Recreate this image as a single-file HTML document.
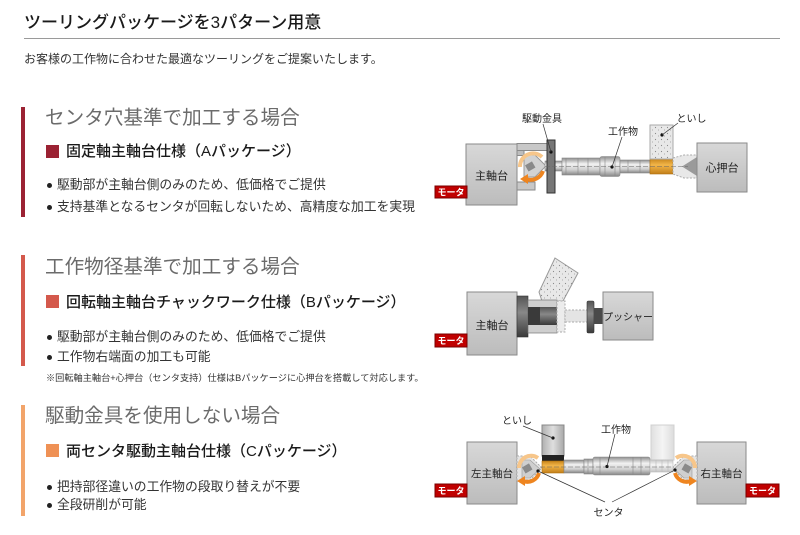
<!DOCTYPE html>
<html><head><meta charset="utf-8">
<style>
html,body{margin:0;padding:0;}
body{width:800px;height:535px;overflow:hidden;position:relative;background:#fff;font-family:"Liberation Sans","Noto Sans CJK JP",sans-serif;}
.t{position:absolute;white-space:nowrap;line-height:1;}
.bar{position:absolute;left:21px;width:3.5px;}
.sq{position:absolute;left:46px;width:13px;height:13px;}
.bl{position:absolute;left:46.5px;width:5px;height:5px;border-radius:50%;background:#222;}
.h{left:45px;font-size:19.6px;color:#6b6b6b;}
.s{left:66px;font-size:15px;color:#1a1a1a;font-weight:500;}
.b{left:57px;font-size:12.8px;color:#333;}
svg{position:absolute;left:0;top:0;}
</style></head><body>
<div class="t" style="left:24px;top:13.5px;font-size:17px;color:#1a1a1a;font-weight:500;">ツーリングパッケージを3パターン用意</div>
<div style="position:absolute;left:24px;top:38px;width:756px;height:1px;background:#9a9a9a;"></div>
<div class="t" style="left:24px;top:52.9px;font-size:12px;color:#333;">お客様の工作物に合わせた最適なツーリングをご提案いたします。</div>

<div class="bar" style="top:107px;height:110px;background:#9b2233;"></div>
<div class="t h" style="top:108.8px;">センタ穴基準で加工する場合</div>
<div class="sq" style="top:144.5px;background:#9b2233;"></div>
<div class="t s" style="top:144px;">固定軸主軸台仕様（Aパッケージ）</div>
<div class="bl" style="top:182.5px;"></div>
<div class="t b" style="top:179px;">駆動部が主軸台側のみのため、低価格でご提供</div>
<div class="bl" style="top:204.5px;"></div>
<div class="t b" style="top:201px;">支持基準となるセンタが回転しないため、高精度な加工を実現</div>

<div class="bar" style="top:255px;height:111px;background:#d4594c;"></div>
<div class="t h" style="top:257.8px;">工作物径基準で加工する場合</div>
<div class="sq" style="top:295px;background:#d4594c;"></div>
<div class="t s" style="top:295px;">回転軸主軸台チャックワーク仕様（Bパッケージ）</div>
<div class="bl" style="top:334.5px;"></div>
<div class="t b" style="top:331px;">駆動部が主軸台側のみのため、低価格でご提供</div>
<div class="bl" style="top:354.5px;"></div>
<div class="t b" style="top:351px;">工作物右端面の加工も可能</div>
<div class="t" style="left:46px;top:373.7px;font-size:9.2px;color:#333;">※回転軸主軸台+心押台（センタ支持）仕様はBパッケージに心押台を搭載して対応します。</div>

<div class="bar" style="top:405px;height:111px;background:#f2a46a;"></div>
<div class="t h" style="top:406.8px;">駆動金具を使用しない場合</div>
<div class="sq" style="top:444px;background:#ef9155;"></div>
<div class="t s" style="top:444px;">両センタ駆動主軸台仕様（Cパッケージ）</div>
<div class="bl" style="top:484.5px;"></div>
<div class="t b" style="top:481px;">把持部径違いの工作物の段取り替えが不要</div>
<div class="bl" style="top:502.5px;"></div>
<div class="t b" style="top:499px;">全段研削が可能</div>

<svg width="800" height="535" viewBox="0 0 800 535" xmlns="http://www.w3.org/2000/svg" font-family="Liberation Sans, Noto Sans CJK JP, sans-serif">
<defs>
<linearGradient id="box" x1="0" y1="0" x2="0" y2="1"><stop offset="0" stop-color="#d8d8d8"/><stop offset="1" stop-color="#bcbcbc"/></linearGradient>
<linearGradient id="cyl" x1="0" y1="0" x2="0" y2="1"><stop offset="0" stop-color="#8e8e8e"/><stop offset="0.35" stop-color="#f2f2f2"/><stop offset="0.7" stop-color="#cfcfcf"/><stop offset="1" stop-color="#858585"/></linearGradient>
<linearGradient id="cylL" x1="0" y1="0" x2="0" y2="1"><stop offset="0" stop-color="#c8c8c8"/><stop offset="0.4" stop-color="#f6f6f6"/><stop offset="1" stop-color="#c4c4c4"/></linearGradient>
<linearGradient id="org" x1="0" y1="0" x2="0" y2="1"><stop offset="0" stop-color="#c9861c"/><stop offset="0.4" stop-color="#f3b64a"/><stop offset="1" stop-color="#c27e18"/></linearGradient>
<linearGradient id="dark" x1="0" y1="0" x2="0" y2="1"><stop offset="0" stop-color="#555"/><stop offset="0.4" stop-color="#888"/><stop offset="1" stop-color="#3a3a3a"/></linearGradient>
<linearGradient id="wheel" x1="0" y1="0" x2="1" y2="0"><stop offset="0" stop-color="#b0b0b0"/><stop offset="0.5" stop-color="#dedede"/><stop offset="1" stop-color="#a8a8a8"/></linearGradient>
<linearGradient id="ghost" x1="0" y1="0" x2="1" y2="0"><stop offset="0" stop-color="#e0e0e0"/><stop offset="0.5" stop-color="#f4f4f4"/><stop offset="1" stop-color="#dcdcdc"/></linearGradient>
<pattern id="dots" width="6" height="6" patternUnits="userSpaceOnUse"><rect width="6" height="6" fill="#e8e8e8"/><circle cx="1.5" cy="1.5" r="0.6" fill="#8a8a8a"/><circle cx="4.5" cy="4" r="0.5" fill="#9a9a9a"/></pattern>
</defs>

<!-- Diagram 1 -->
<rect x="466" y="144" width="51" height="61" fill="url(#box)" stroke="#8a8a8a"/>
<text x="491.5" y="179.5" font-size="11" text-anchor="middle" fill="#222">主軸台</text>
<rect x="435" y="186" width="32" height="12" fill="#c00000" stroke="#7a0000"/>
<text x="451" y="195.5" font-size="9" text-anchor="middle" fill="#fff" font-weight="bold">モータ</text>
<rect x="517" y="143.5" width="30" height="7" fill="#c8c8c8" stroke="#8a8a8a"/>
<rect x="517" y="150.5" width="7" height="5" fill="#bdbdbd" stroke="#8a8a8a"/>
<rect x="517" y="182" width="18" height="8" fill="#c8c8c8" stroke="#8a8a8a"/>
<polygon points="524,155 535,155 546,166 535,177 524,177" fill="#d2d2d2" stroke="#999"/>
<rect x="526" y="163" width="8" height="7" fill="#8a8a8a" transform="rotate(-30 530 166)"/>
<path d="M520,167 A13,13 0 0 1 542,157" stroke="#f7c68a" stroke-width="4" fill="none"/>
<path d="M543,171 A13,13 0 0 1 526,179" stroke="#ee8520" stroke-width="4" fill="none"/>
<polygon points="520,179 528,174 528,184" fill="#ee8520"/>
<rect x="545" y="161" width="17" height="10" fill="url(#cyl)" stroke="#888" stroke-width="0.6"/>
<rect x="547" y="140" width="8" height="53" fill="#767676" stroke="#333"/>
<circle cx="551" cy="152" r="1.6" fill="#111"/>
<rect x="562" y="158" width="38" height="17" fill="url(#cyl)" stroke="#888" stroke-width="0.6"/>
<rect x="600" y="156.5" width="20" height="20" rx="2" fill="url(#cyl)" stroke="#888" stroke-width="0.6"/>
<rect x="620" y="160" width="30" height="13" fill="url(#cyl)" stroke="#888" stroke-width="0.6"/>
<g stroke="#888" stroke-width="0.6"><line x1="566" y1="158" x2="566" y2="175"/><line x1="578" y1="158" x2="578" y2="175"/><line x1="588" y1="158" x2="588" y2="175"/><line x1="605" y1="157" x2="605" y2="176"/><line x1="615" y1="157" x2="615" y2="176"/><line x1="628" y1="160" x2="628" y2="173"/><line x1="640" y1="160" x2="640" y2="173"/></g>
<rect x="650" y="159" width="23" height="15" fill="url(#org)" stroke="#b07010" stroke-width="0.6"/>
<rect x="650" y="125" width="23" height="34" fill="url(#dots)" stroke="#aaa"/>
<polygon points="673,158 684,155 697,155 697,178 684,178 673,174" fill="#e8e8e8" stroke="#aaa" stroke-dasharray="2 1.5"/>
<polygon points="682,166.5 697,157 697,176" fill="#9a9a9a"/>
<line x1="545" y1="166.5" x2="688" y2="166.5" stroke="#666" stroke-width="0.6" stroke-dasharray="5 2"/>
<rect x="697" y="143" width="50" height="49" fill="url(#box)" stroke="#8a8a8a"/>
<text x="722" y="171.5" font-size="11" text-anchor="middle" fill="#222">心押台</text>
<circle cx="612" cy="167" r="1.6" fill="#111"/>
<circle cx="662" cy="135" r="1.6" fill="#111"/>
<g stroke="#333" stroke-width="0.7"><line x1="543" y1="124" x2="551" y2="152"/><line x1="622" y1="137" x2="612" y2="167"/><line x1="678" y1="123" x2="662" y2="135"/></g>
<g font-size="10" fill="#222" text-anchor="middle"><text x="542" y="121.8">駆動金具</text><text x="623" y="134.8">工作物</text><text x="691.5" y="121.8">といし</text></g>

<!-- Diagram 2 -->
<rect x="467" y="292" width="50" height="63" fill="url(#box)" stroke="#8a8a8a"/>
<text x="492" y="329" font-size="11" text-anchor="middle" fill="#222">主軸台</text>
<rect x="435" y="334" width="32" height="13" fill="#c00000" stroke="#7a0000"/>
<text x="451" y="344" font-size="9" text-anchor="middle" fill="#fff" font-weight="bold">モータ</text>
<rect x="517" y="296" width="11" height="41" fill="url(#dark)" stroke="#333" stroke-width="0.6"/>
<polygon points="555,258 578,273 563,301 542,301 539,292" fill="url(#dots)" stroke="#999"/>
<rect x="528" y="300" width="29" height="33" fill="#cfcfcf" stroke="#777" stroke-width="0.7"/>
<rect x="528" y="307" width="12" height="18" fill="#3a3a3a"/>
<rect x="540" y="307" width="17" height="18" fill="url(#dark)"/>
<rect x="557" y="301" width="8" height="31" fill="#ececec" stroke="#aaa" stroke-dasharray="2 1.5"/>
<rect x="565" y="310" width="23" height="12" fill="#e4e4e4" stroke="#aaa" stroke-dasharray="2 1.5"/>
<rect x="587" y="301" width="7" height="32" rx="1.5" fill="url(#dark)" stroke="#333" stroke-width="0.6"/>
<rect x="594" y="308" width="9" height="16" fill="#4a4a4a"/>
<rect x="603" y="292" width="50" height="48" fill="url(#box)" stroke="#8a8a8a"/>
<text x="628" y="320.5" font-size="10" text-anchor="middle" fill="#222">プッシャー</text>

<!-- Diagram 3 -->
<rect x="467" y="442" width="50" height="62" fill="url(#box)" stroke="#8a8a8a"/>
<text x="492" y="477" font-size="10.5" text-anchor="middle" fill="#222">左主軸台</text>
<rect x="435" y="484" width="32" height="13" fill="#c00000" stroke="#7a0000"/>
<text x="451" y="494" font-size="9" text-anchor="middle" fill="#fff" font-weight="bold">モータ</text>
<rect x="697" y="442" width="49" height="62" fill="url(#box)" stroke="#8a8a8a"/>
<text x="721.5" y="477" font-size="10.5" text-anchor="middle" fill="#222">右主軸台</text>
<rect x="746" y="484" width="33" height="13" fill="#c00000" stroke="#7a0000"/>
<text x="762.5" y="494" font-size="9" text-anchor="middle" fill="#fff" font-weight="bold">モータ</text>
<!-- left center -->
<polygon points="517,456 530,456 542,468 530,480 517,480" fill="#e4e4e4" stroke="#aaa" stroke-dasharray="2 1.5"/>
<polygon points="522,460 530,460 540,469 530,478 522,478" fill="#cfcfcf" stroke="#999" stroke-width="0.6"/>
<rect x="523" y="465" width="8" height="7" fill="#8a8a8a" transform="rotate(-30 527 468)"/>
<path d="M519,468 A12,12 0 0 1 538,458" stroke="#f7c68a" stroke-width="4" fill="none"/>
<path d="M539,473 A12,12 0 0 1 523,481" stroke="#ee8520" stroke-width="4" fill="none"/>
<polygon points="517,481 525,476 525,486" fill="#ee8520"/>
<!-- right center -->
<polygon points="697,456 684,456 672,468 684,480 697,480" fill="#e4e4e4" stroke="#aaa" stroke-dasharray="2 1.5"/>
<polygon points="692,460 684,460 674,469 684,478 692,478" fill="#cfcfcf" stroke="#999" stroke-width="0.6"/>
<rect x="683" y="465" width="8" height="7" fill="#8a8a8a" transform="rotate(30 687 468)"/>
<path d="M695,468 A12,12 0 0 0 676,458" stroke="#f7c68a" stroke-width="4" fill="none"/>
<path d="M675,473 A12,12 0 0 0 691,481" stroke="#ee8520" stroke-width="4" fill="none"/>
<polygon points="697,481 689,476 689,486" fill="#ee8520"/>
<!-- wheels -->
<rect x="651" y="425" width="23" height="35" fill="url(#ghost)" stroke="#d0d0d0"/>
<rect x="542" y="425" width="22" height="31" fill="url(#wheel)" stroke="#888"/>
<rect x="542" y="455" width="22" height="7" fill="#222"/>
<rect x="542" y="461" width="22" height="12" fill="url(#org)" stroke="#b07010" stroke-width="0.6"/>
<!-- workpiece -->
<rect x="564" y="460" width="20" height="13" fill="url(#cyl)" stroke="#888" stroke-width="0.6"/>
<rect x="584" y="459" width="9" height="15" fill="url(#cyl)" stroke="#888" stroke-width="0.6"/>
<rect x="593" y="457" width="57" height="18" rx="2" fill="url(#cyl)" stroke="#888" stroke-width="0.6"/>
<rect x="650" y="460" width="23" height="12" fill="url(#cylL)" stroke="#bbb" stroke-width="0.6"/>
<g stroke="#888" stroke-width="0.6"><line x1="588" y1="459" x2="588" y2="474"/><line x1="600" y1="457" x2="600" y2="475"/><line x1="633" y1="457" x2="633" y2="475"/><line x1="641" y1="457" x2="641" y2="475"/></g>
<g stroke="#bbb" stroke-width="0.6"><line x1="656" y1="460" x2="656" y2="472"/><line x1="662" y1="460" x2="662" y2="472"/><line x1="668" y1="460" x2="668" y2="472"/></g>
<line x1="540" y1="467" x2="674" y2="467" stroke="#666" stroke-width="0.6" stroke-dasharray="5 2"/>
<circle cx="553" cy="438" r="1.6" fill="#111"/>
<circle cx="607" cy="466.5" r="1.6" fill="#111"/>
<circle cx="538" cy="471" r="1.6" fill="#111"/>
<circle cx="675" cy="470" r="1.6" fill="#111"/>
<g stroke="#333" stroke-width="0.7"><line x1="523" y1="426" x2="553" y2="438"/><line x1="615" y1="434" x2="607" y2="466.5"/><line x1="538" y1="471" x2="605" y2="502"/><line x1="675" y1="470" x2="612" y2="502"/></g>
<g font-size="10" fill="#222" text-anchor="middle"><text x="517" y="423.8">といし</text><text x="616" y="432.8">工作物</text><text x="608.5" y="515.8">センタ</text></g>
</svg>
</body></html>
